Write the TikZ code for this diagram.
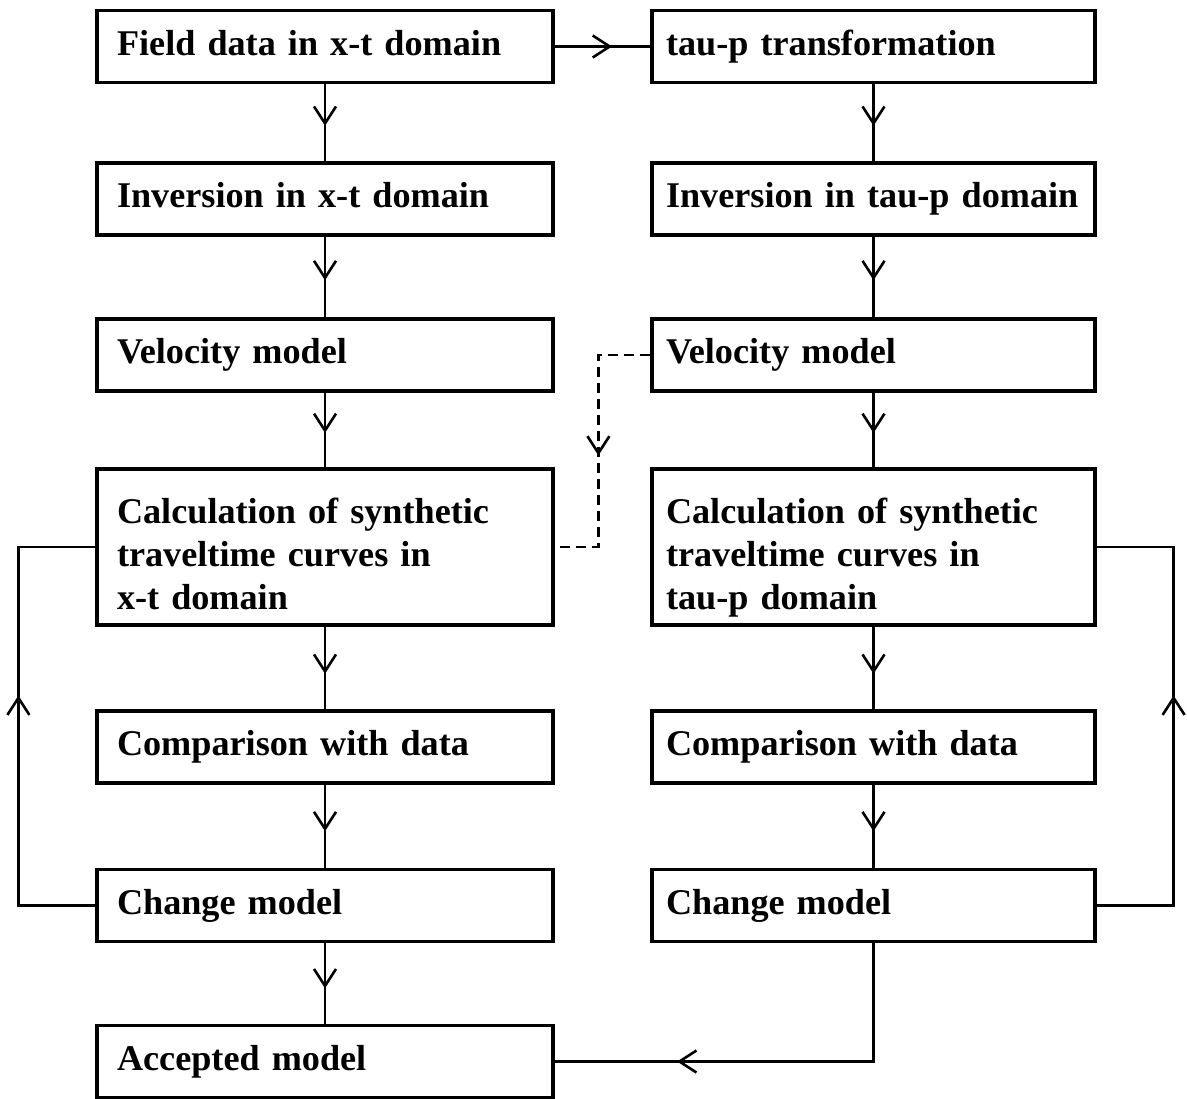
\documentclass[tikz,border=0pt]{standalone}
\usepackage{fontspec}
\setmainfont{Liberation Serif}
\usetikzlibrary{arrows.meta,decorations.markings}
\newcommand{\flowfont}{\fontsize{18.1}{21.3}\selectfont\bfseries\hyphenpenalty=10000}
\newcommand{\boxstrut}{\rule[-4pt]{0pt}{16.6pt}}
\tikzset{
  box/.style={draw, line width=1.6pt, inner ysep=0pt, minimum height=36pt, align=left, font=\flowfont,
    execute at begin node=\boxstrut, execute at end node=\boxstrut},
  lbox/.style={box, text width=208pt, inner xsep=10pt},
  rbox/.style={box, text width=207.5pt, inner xsep=7pt},
  tallbox/.style={minimum height=78pt},
  link/.style={line width=1.3pt},
  flow/.style={link, postaction={decorate}, decoration={markings, mark=at position #1 with {\arrow{Straight Barb[length=8.5pt,width=11pt]}}}}
}

\begin{document}
\begin{tikzpicture}[x=0.5pt,y=-0.5pt]
\useasboundingbox (0,0) rectangle (1187,1098);
\node[lbox] (field) at (325,46.5) {Field data in x-t domain};
\node[rbox] (taup) at (873.5,46.5) {tau-p transformation};
\node[lbox] (invxt) at (325,199) {Inversion in x-t domain};
\node[rbox] (invtp) at (873.5,199) {Inversion in tau-p domain};
\node[lbox] (velxt) at (325,355) {Velocity model};
\node[rbox] (veltp) at (873.5,355) {Velocity model};
\node[lbox,tallbox] (calcxt) at (325,547) {\rule{0pt}{23.5pt}Calculation of synthetic\\traveltime curves in\\x-t domain};
\node[rbox,tallbox] (calctp) at (873.5,547) {\rule{0pt}{23.5pt}Calculation of synthetic\\traveltime curves in\\tau-p domain};
\node[lbox] (compxt) at (325,747) {Comparison with data};
\node[rbox] (comptp) at (873.5,747) {Comparison with data};
\node[lbox] (chgxt) at (325,905.5) {Change model};
\node[rbox] (chgtp) at (873.5,905.5) {Change model};
\node[lbox] (accept) at (325,1061.5) {Accepted model};

\draw[flow=0.6] (field) -- (taup);
\draw[flow=0.54] (field) -- (invxt);
\draw[flow=0.54] (invxt) -- (velxt);
\draw[flow=0.54] (velxt) -- (calcxt);
\draw[flow=0.57] (calcxt) -- (compxt);
\draw[flow=0.56] (compxt) -- (chgxt);
\draw[flow=0.56] (chgxt) -- (accept);
\draw[flow=0.54] (taup) -- (invtp);
\draw[flow=0.54] (invtp) -- (veltp);
\draw[flow=0.54] (veltp) -- (calctp);
\draw[flow=0.57] (calctp) -- (comptp);
\draw[flow=0.56] (comptp) -- (chgtp);
\draw[flow=0.53, dash pattern=on 5pt off 3pt] (veltp.west) -- ++(-52,0) |- (calcxt.east);
\draw[flow=0.56] (chgxt.west) -- ++(-77,0) |- (calcxt.west);
\draw[flow=0.56] (chgtp.east) -- ++(77,0) |- (calctp.east);
\draw[flow=0.72] (chgtp.south) |- (accept.east);
\end{tikzpicture}
\end{document}
